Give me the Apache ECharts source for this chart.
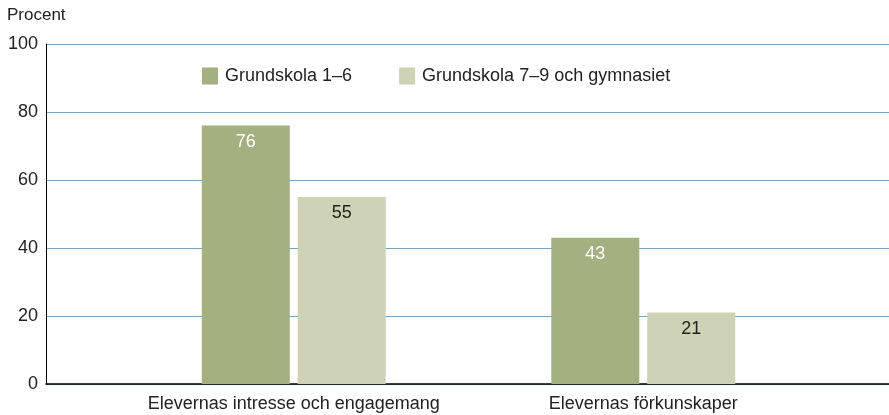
<!DOCTYPE html>
<html>
<head>
<meta charset="utf-8">
<script src="https://cdn.jsdelivr.net/npm/echarts@6/dist/echarts.min.js"></script>
<style>
  html, body { margin: 0; padding: 0; background: #fff; }
  #chart { width: 889px; height: 415px; }
</style>
</head>
<body>
<div id="chart"></div>
<script>
// data
var categories = ['Elevernas intresse och engagemang', 'Elevernas förkunskaper'];
var seriesNames = ['Grundskola 1–6', 'Grundskola 7–9 och gymnasiet'];
var grundskola16 = [76, 43];
var grundskola79 = [55, 21];
var yTicks = { min: 0, max: 100, step: 20 };

var chart = echarts.init(document.getElementById('chart'));

var font = 'Liberation Sans, Arial, sans-serif';

var option = {
    animation: false,
    textStyle: { fontFamily: font },
    graphic: [{
        type: 'text', left: 7, top: 7,
        style: { text: 'Procent', fontSize: 17, fill: '#222', fontFamily: font }
    }],
    legend: {
        data: seriesNames,
        left: 197, top: 62,
        itemWidth: 16, itemHeight: 17, itemGap: 47,
        icon: 'rect',
        textStyle: { fontSize: 18, color: '#222', padding: [0, 0, 0, 2] }
    },
    grid: [
        // full width grid: y axis, grid lines, base line
        { left: 46, right: 0, top: 44, bottom: 31 },
        // bars
        { left: 119, right: 71, top: 44, bottom: 31 }
    ],
    xAxis: [
        {
            gridIndex: 0, type: 'category', data: [''],
            axisLine: { lineStyle: { color: '#000', width: 1.5 } },
            axisTick: { show: false }, axisLabel: { show: false }
        },
        {
            gridIndex: 1, type: 'category', data: categories,
            axisLine: { show: false }, axisTick: { show: false },
            axisLabel: { interval: 0, fontSize: 18, color: '#222', margin: 11 }
        }
    ],
    yAxis: [
        {
            gridIndex: 0, type: 'value',
            min: yTicks.min, max: yTicks.max, interval: yTicks.step,
            axisLine: { show: true, lineStyle: { color: '#000', width: 1 } },
            axisTick: { show: false },
            axisLabel: { fontSize: 18, color: '#222', margin: 8 },
            splitLine: { lineStyle: { color: '#6aa7d2', width: 1.2 } }
        },
        {
            gridIndex: 1, type: 'value',
            min: yTicks.min, max: yTicks.max, interval: yTicks.step,
            show: false, splitLine: { show: false }
        }
    ],
    series: [
        {
            name: seriesNames[0], type: 'bar', xAxisIndex: 1, yAxisIndex: 1,
            data: grundskola16, barWidth: 88, barGap: '9%',
            itemStyle: { color: '#a2b17f' },
            label: { show: true, position: 'insideTop', distance: 7, fontSize: 18, color: '#fff' }
        },
        {
            name: seriesNames[1], type: 'bar', xAxisIndex: 1, yAxisIndex: 1,
            data: grundskola79, barWidth: 88,
            itemStyle: { color: '#ced3b5' },
            label: { show: true, position: 'insideTop', distance: 7, fontSize: 18, color: '#222' }
        }
    ]
};

chart.setOption(option);
</script>
</body>
</html>
